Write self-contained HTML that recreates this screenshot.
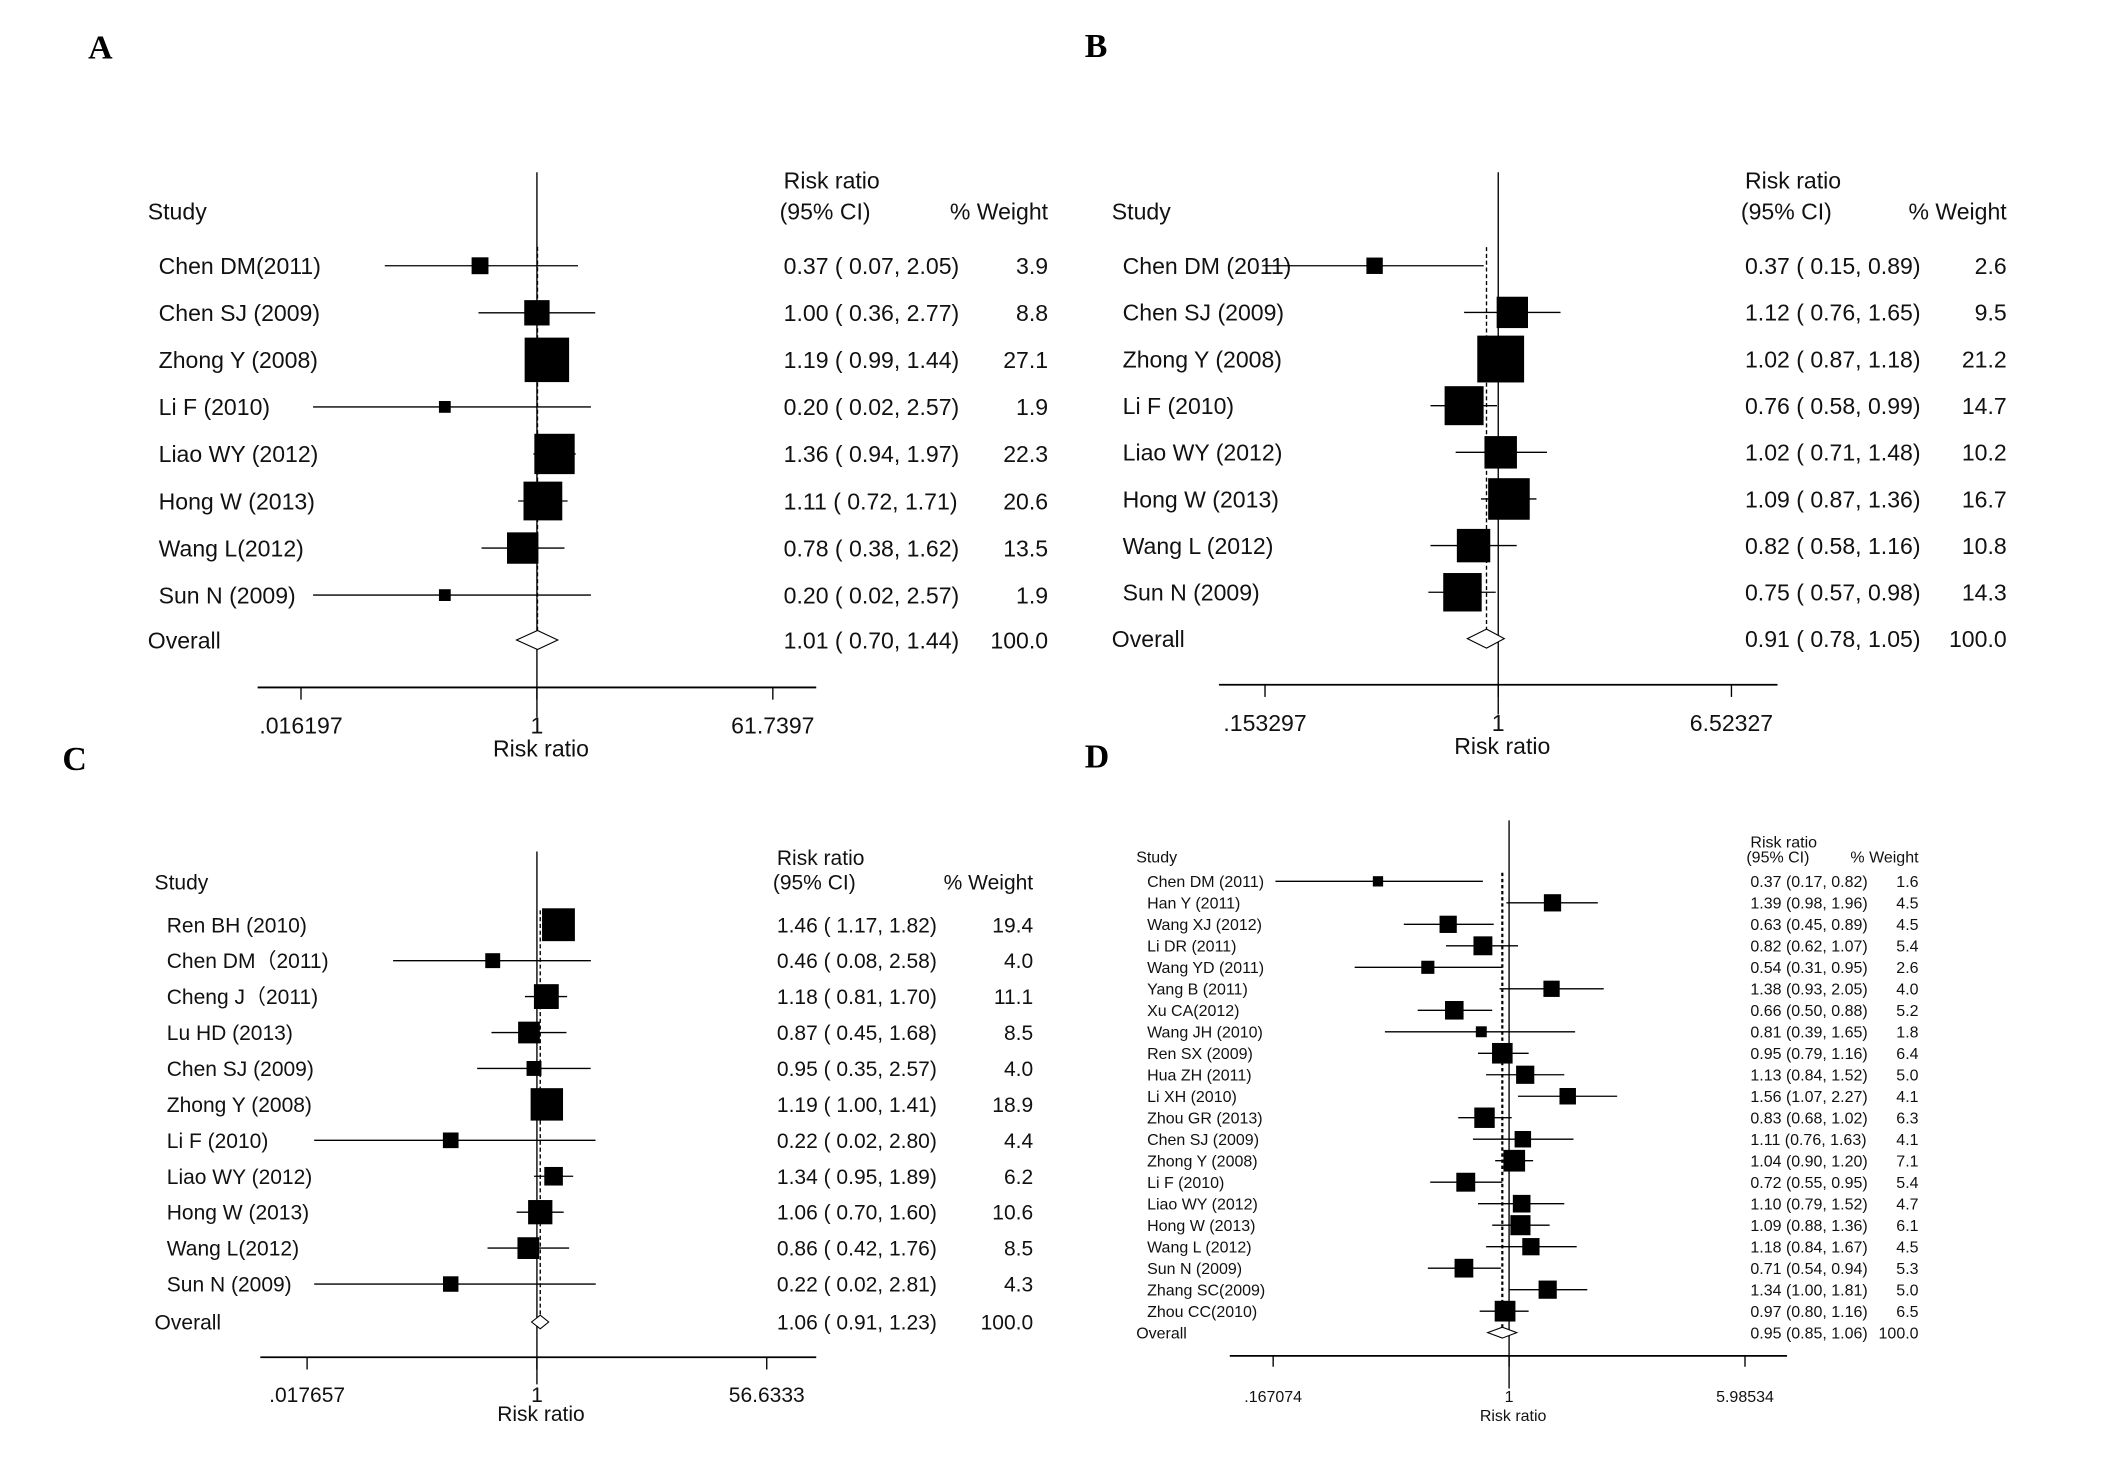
<!DOCTYPE html>
<html><head><meta charset="utf-8"><style>
html,body{margin:0;padding:0;background:#fff;}
svg{display:block;font-family:"Liberation Sans",Arial,sans-serif;}
</style></head><body>
<svg id="fig" width="2126" height="1482" viewBox="0 0 1568 1093" preserveAspectRatio="none" xmlns="http://www.w3.org/2000/svg">
<rect width="1600" height="1100" fill="#fff"/>
<text x="65" y="43" font-family="Liberation Serif,serif" font-weight="bold" font-size="25">A</text>
<text x="800" y="42" font-family="Liberation Serif,serif" font-weight="bold" font-size="25">B</text>
<text x="46" y="568" font-family="Liberation Serif,serif" font-weight="bold" font-size="25">C</text>
<text x="800" y="566" font-family="Liberation Serif,serif" font-weight="bold" font-size="25">D</text>
</svg>
<script>
// Panel A data
const studiesA = ["Chen DM(2011)","Chen SJ (2009)","Zhong Y (2008)","Li F (2010)","Liao WY (2012)","Hong W (2013)","Wang L(2012)","Sun N (2009)"];
const rrA = [0.37,1.00,1.19,0.20,1.36,1.11,0.78,0.20];
const loA = [0.07,0.36,0.99,0.02,0.94,0.72,0.38,0.02];
const hiA = [2.05,2.77,1.44,2.57,1.97,1.71,1.62,2.57];
const wA = [3.9,8.8,27.1,1.9,22.3,20.6,13.5,1.9];
const overallA = [1.01,0.70,1.44];
const ticksA = [".016197","1","61.7397"];
const tickValsA = [0.016197,1,61.7397];
// Panel B data
const studiesB = ["Chen DM (2011)","Chen SJ (2009)","Zhong Y (2008)","Li F (2010)","Liao WY (2012)","Hong W (2013)","Wang L (2012)","Sun N (2009)"];
const rrB = [0.37,1.12,1.02,0.76,1.02,1.09,0.82,0.75];
const loB = [0.15,0.76,0.87,0.58,0.71,0.87,0.58,0.57];
const hiB = [0.89,1.65,1.18,0.99,1.48,1.36,1.16,0.98];
const wB = [2.6,9.5,21.2,14.7,10.2,16.7,10.8,14.3];
const overallB = [0.91,0.78,1.05];
const ticksB = [".153297","1","6.52327"];
const tickValsB = [0.153297,1,6.52327];
// Panel C data
const studiesC = ["Ren BH (2010)","Chen DM\uFF082011)","Cheng J\uFF082011)","Lu HD (2013)","Chen SJ (2009)","Zhong Y (2008)","Li F (2010)","Liao WY (2012)","Hong W (2013)","Wang L(2012)","Sun N (2009)"];
const rrC = [1.46,0.46,1.18,0.87,0.95,1.19,0.22,1.34,1.06,0.86,0.22];
const loC = [1.17,0.08,0.81,0.45,0.35,1.00,0.02,0.95,0.70,0.42,0.02];
const hiC = [1.82,2.58,1.70,1.68,2.57,1.41,2.80,1.89,1.60,1.76,2.81];
const wC = [19.4,4.0,11.1,8.5,4.0,18.9,4.4,6.2,10.6,8.5,4.3];
const overallC = [1.06,0.91,1.23];
const ticksC = [".017657","1","56.6333"];
const tickValsC = [0.017657,1,56.6333];
// Panel D data
const studiesD = ["Chen DM (2011)","Han Y (2011)","Wang XJ (2012)","Li DR (2011)","Wang YD (2011)","Yang B (2011)","Xu CA(2012)","Wang JH (2010)","Ren SX (2009)","Hua ZH (2011)","Li XH (2010)","Zhou GR (2013)","Chen SJ (2009)","Zhong Y (2008)","Li F (2010)","Liao WY (2012)","Hong W (2013)","Wang L (2012)","Sun N (2009)","Zhang SC(2009)","Zhou CC(2010)"];
const rrD = [0.37,1.39,0.63,0.82,0.54,1.38,0.66,0.81,0.95,1.13,1.56,0.83,1.11,1.04,0.72,1.10,1.09,1.18,0.71,1.34,0.97];
const loD = [0.17,0.98,0.45,0.62,0.31,0.93,0.50,0.39,0.79,0.84,1.07,0.68,0.76,0.90,0.55,0.79,0.88,0.84,0.54,1.00,0.80];
const hiD = [0.82,1.96,0.89,1.07,0.95,2.05,0.88,1.65,1.16,1.52,2.27,1.02,1.63,1.20,0.95,1.52,1.36,1.67,0.94,1.81,1.16];
const wD = [1.6,4.5,4.5,5.4,2.6,4.0,5.2,1.8,6.4,5.0,4.1,6.3,4.1,7.1,5.4,4.7,6.1,4.5,5.3,5.0,6.5];
const overallD = [0.95,0.85,1.06];
const ticksD = [".167074","1","5.98534"];
const tickValsD = [0.167074,1,5.98534];

const NS="http://www.w3.org/2000/svg";
const svg=document.getElementById('fig');
function mk(tag,attrs,parent){const e=document.createElementNS(NS,tag);for(const k in attrs)e.setAttribute(k,attrs[k]);(parent||svg).appendChild(e);return e;}
function txt(x,y,s,fs,anchor,parent){const t=mk('text',{x:x,y:y,'font-size':fs,'text-anchor':anchor||'start',fill:'#111'},parent);t.textContent=s;return t;}
function fmtCI(r,l,h,sp){return r.toFixed(2)+(sp?" ( ":" (")+l.toFixed(2)+", "+h.toFixed(2)+")";}

function panel(id,P,studies,rr,lo,hi,w,ov,tickLabels,tickVals){
  const g=mk('g',{});
  
  
  const ln1=Math.log(tickVals[2]);
  const xs=v=>P.x1+Math.log(v)/ln1*P.half;
  const ys=i=>P.row0+i*P.dy;
  const nRows=studies.length;
  const yOv=ys(nRows)+P.ovOff;
  const h1=txt(P.labX0,P.hdrY2,"Study",P.fs,'start',g);
  
  const h2=txt(P.valX,P.hdrY1,"Risk ratio",P.fs,'start',g);
  
  const h3=txt(P.valX-3,P.hdrY2,"(95% CI)",P.fs,'start',g);
  
  const h4=txt(P.wX,P.hdrY2,"% Weight",P.fs,'end',g);
  
  const nl=mk('line',{x1:P.x1,x2:P.x1,y1:P.top,y2:P.axY+P.nlExt,stroke:'#000','stroke-width':1},g);
  
  const dl=mk('line',{x1:xs(ov[0]),x2:xs(ov[0]),y1:ys(0)-P.dy*0.4,y2:yOv+P.dh,stroke:'#000','stroke-width':P.dashW,'stroke-dasharray':P.dash},g);
  
  for(let i=0;i<nRows;i++){
    const y=ys(i);
    const lab=txt(P.labX,y+P.fs*0.36,studies[i],P.fs,'start',g);
    
    const ci=mk('line',{x1:xs(lo[i]),x2:xs(hi[i]),y1:y,y2:y,stroke:'#000','stroke-width':1},g);
    
    const s=P.k*Math.sqrt(w[i]);
    const b=mk('rect',{x:xs(rr[i])-s/2,y:y-s/2,width:s,height:s,fill:'#000'},g);
    
    const v=txt(P.valX,y+P.fs*0.36,fmtCI(rr[i],lo[i],hi[i],P.sp),P.fs,'start',g);
    
    const wt=txt(P.wX,y+P.fs*0.36,w[i].toFixed(1),P.fs,'end',g);
    
  }
  const ol=txt(P.labX0,yOv+P.fs*0.36,"Overall",P.fs,'start',g);
  
  const a=xs(ov[1]),c=xs(ov[2]),m=xs(ov[0]);
  const dm=mk('polygon',{points:`${a},${yOv} ${m},${yOv-P.dh} ${c},${yOv} ${m},${yOv+P.dh}`,fill:'#fff',stroke:'#000','stroke-width':0.8},g);
  
  const ov1=txt(P.valX,yOv+P.fs*0.36,fmtCI(ov[0],ov[1],ov[2],P.sp),P.fs,'start',g);
  
  const ov2=txt(P.wX,yOv+P.fs*0.36,"100.0",P.fs,'end',g);
  
  const ax=mk('line',{x1:P.axX0,x2:P.axX1,y1:P.axY,y2:P.axY,stroke:'#000','stroke-width':1.3},g);
  
  for(let j=0;j<tickVals.length;j++){
    const tx=xs(tickVals[j]);
    const tk=mk('line',{x1:tx,x2:tx,y1:P.axY,y2:P.axY+P.tl,stroke:'#000','stroke-width':1},g);
    
    const tlb=txt(tx,P.tickY,tickLabels[j],P.fs,'middle',g);
    
  }
  const xt=txt(P.x1+3,P.titleY,"Risk ratio",P.fs,'middle',g);
  
}

panel('a',{x1:396,half:174,row0:196,dy:34.7,ovOff:-1.6,fs:17,labX:117,labX0:109,valX:578,wX:773,hdrY1:139,hdrY2:162,top:127,nlExt:22,dashW:1,dash:'3,2',dh:7,k:6.3,sp:true,axX0:190,axX1:602,axY:507,tl:9,tickY:541,titleY:558},
  studiesA,rrA,loA,hiA,wA,overallA,ticksA,tickValsA);
panel('b',{x1:1105,half:172,row0:196,dy:34.4,ovOff:-0.2,fs:17,labX:828,labX0:820,valX:1287,wX:1480,hdrY1:139,hdrY2:162,top:127,nlExt:22,dashW:1,dash:'3,2',dh:7,k:7.5,sp:true,axX0:899,axX1:1311,axY:505,tl:9,tickY:539,titleY:556},
  studiesB,rrB,loB,hiB,wB,overallB,ticksB,tickValsB);
panel('c',{x1:396,half:169.5,row0:682,dy:26.5,ovOff:1.5,fs:15.5,labX:123,labX0:114,valX:573,wX:762,hdrY1:638,hdrY2:656,top:628,nlExt:20,dashW:1,dash:'3,2',dh:5,k:5.5,sp:true,axX0:192,axX1:602,axY:1001,tl:9,tickY:1034,titleY:1048},
  studiesC,rrC,loC,hiC,wC,overallC,ticksC,tickValsC);
panel('d',{x1:1113,half:174,row0:650,dy:15.85,ovOff:0,fs:11.8,labX:846,labX0:838,valX:1291,wX:1415,hdrY1:625,hdrY2:636,top:605,nlExt:24,dashW:1.6,dash:'2.5,2',dh:4,k:6,sp:false,axX0:907,axX1:1318,axY:1000,tl:8,tickY:1034,titleY:1048},
  studiesD,rrD,loD,hiD,wD,overallD,ticksD,tickValsD);
</script>
</body></html>
